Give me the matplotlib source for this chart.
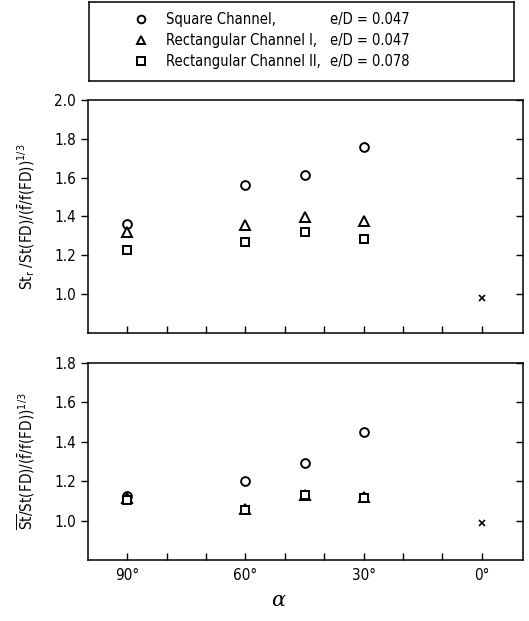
import matplotlib
matplotlib.use("Agg")
import matplotlib.pyplot as plt
from matplotlib import font_manager

# --- data ---
alpha_deg = [90, 60, 45, 30]
labels = ["Square Channel,", "Rectangular Channel I,", "Rectangular Channel II,"]
ed_text = ["e/D = 0.047", "e/D = 0.047", "e/D = 0.078"]
markers = ["o", "^", "s"]

# local Stanton ratio (top panel)
st_local = [
    [1.36, 1.56, 1.615, 1.76],   # square channel
    [1.32, 1.355, 1.395, 1.375], # rectangular I
    [1.225, 1.27, 1.32, 1.285],  # rectangular II
]
# average Stanton ratio (bottom panel)
st_mean = [
    [1.125, 1.20, 1.295, 1.45],
    [1.115, 1.06, 1.13, 1.12],
    [1.105, 1.055, 1.13, 1.115],
]
smooth_alpha = [0]
smooth_top = [0.98]
smooth_bot = [0.99]

# look for a narrow sans face (the original uses a condensed Helvetica)
narrow = None
for key in ["LiberationSansNarrow-Regular", "DejaVuSansCondensed.",
            "RobotoCondensed-Regular", "Condensed", "Narrow"]:
    for f in font_manager.fontManager.ttflist:
        fn = f.fname.lower()
        if key.lower() in fn and "bold" not in fn and "italic" not in fn \
                and "oblique" not in fn:
            narrow = f
            break
    if narrow:
        break

if narrow is not None:
    fp = font_manager.FontProperties(fname=narrow.fname)
    fam = narrow.name
else:
    fp = font_manager.FontProperties(family="DejaVu Sans")
    fam = "DejaVu Sans"

plt.rcParams["mathtext.fontset"] = "custom"
plt.rcParams["mathtext.rm"] = fam
plt.rcParams["mathtext.it"] = fam + ":italic"
plt.rcParams["mathtext.default"] = "regular"


def tfp(size):
    p = fp.copy()
    p.set_size(size)
    return p


fig = plt.figure(figsize=(5.29, 6.21), dpi=100)
ax1 = fig.add_axes([0.166, 0.464, 0.823, 0.375])
ax2 = fig.add_axes([0.166, 0.098, 0.823, 0.3175])

for ax, data, smooth, ylim in [(ax1, st_local, smooth_top, (0.8, 2.0)),
                               (ax2, st_mean, smooth_bot, (0.8, 1.8))]:
    for vals, m in zip(data, markers):
        ax.plot(alpha_deg, vals, m, ls="none", mfc="white", mec="black",
                mew=1.4, ms=6.3 if m != "^" else 6.8)
    ax.plot(smooth_alpha, smooth, "x", color="black", ms=5, mew=1.2)
    ax.set_xlim(100, -10.5)
    ax.set_ylim(*ylim)
    yt = [t / 10 for t in range(10, int(round(ylim[1] * 10)) + 1, 2)]
    ax.set_yticks(yt)
    ax.set_yticklabels([f"{v:.1f}" for v in yt], fontproperties=tfp(11))
    ax.set_xticks(list(range(90, -1, -10)))
    ax.tick_params(axis="x", direction="in", length=5, width=1, top=False)
    ax.tick_params(axis="y", direction="out", length=5, width=1, right=True)
    for s in ax.spines.values():
        s.set_linewidth(1.1)
    # right-side ticks point inward
    for t in ax.yaxis.get_major_ticks():
        t.tick2line.set_marker(matplotlib.lines.TICKLEFT)

ax1.tick_params(axis="x", labelbottom=False)
ax2.set_xticklabels(["90°", "", "", "60°", "", "", "30°", "", "", "0°"],
                    fontproperties=tfp(11))
ax2.tick_params(axis="x", pad=6)

ax1.set_ylabel(r"St$_r$ /St(FD)/$(\bar{f}/f(FD))^{1/3}$",
               fontproperties=tfp(11), labelpad=12)
ax2.set_ylabel(r"$\overline{St}$/St(FD)/$(\bar{f}/f(FD))^{1/3}$",
               fontproperties=tfp(11), labelpad=12)
fig.text(0.527, 0.033, r"$\alpha$", fontsize=15, ha="center", va="center",
         family="DejaVu Serif", style="italic")

# legend box
box = fig.add_axes([0.168, 0.87, 0.804, 0.127])
box.set_xticks([]); box.set_yticks([])
box.set_xlim(0, 1); box.set_ylim(0, 1)
for s in box.spines.values():
    s.set_linewidth(1.1)
for i, (lab, ed, m) in enumerate(zip(labels, ed_text, markers)):
    y = 0.78 - i * 0.265
    box.plot([0.123], [y], m, mfc="white", mec="black", mew=1.4, ms=5.5)
    box.text(0.182, y, lab, fontproperties=tfp(10.5), va="center")
    box.text(0.568, y, ed, fontproperties=tfp(10.5), va="center")

fig.savefig("out.png", dpi=100)
